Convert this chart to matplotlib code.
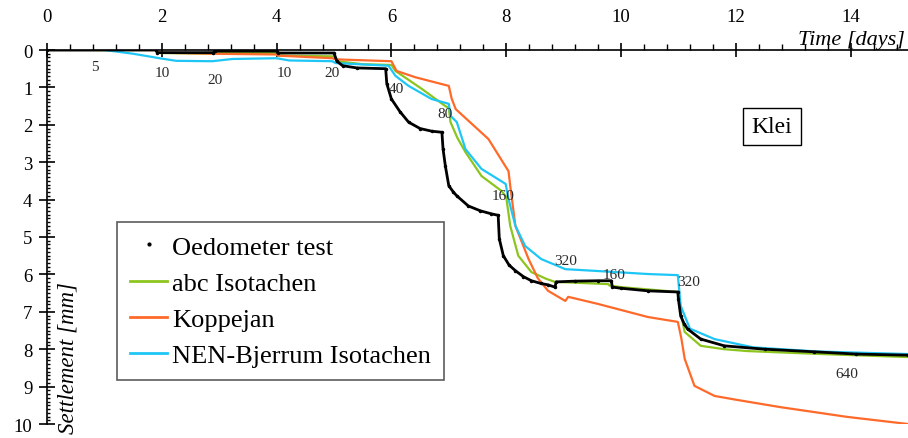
import numpy as np
import matplotlib.pyplot as plt
from matplotlib.lines import Line2D
from matplotlib.ticker import MultipleLocator

plt.rcParams['font.family'] = ['Liberation Serif', 'DejaVu Serif']

# time [days], settlement [mm]
oedo_t = [0.0, 1.9, 1.92, 2.9, 2.92, 4.0, 4.02, 5.0, 5.05, 5.15, 5.4, 5.9, 5.92, 6.0,
          6.15, 6.3, 6.5, 6.7, 6.88, 6.9, 6.94, 7.0, 7.08, 7.14, 7.34, 7.55, 7.74, 7.86,
          7.88, 7.95, 8.05, 8.16, 8.3, 8.44, 8.6, 8.73, 8.85, 8.87, 9.2, 9.6, 9.83,
          9.85, 10.0, 10.47, 10.99, 11.0, 11.04, 11.1, 11.16, 11.39, 11.8, 12.5,
          13.37, 14.1, 15.0]
oedo_s = [0.0, 0.0, 0.07, 0.07, 0.03, 0.03, 0.08, 0.08, 0.3, 0.42, 0.48, 0.5, 0.9, 1.31,
          1.65, 1.93, 2.1, 2.17, 2.2, 2.65, 3.1, 3.63, 3.8, 3.9, 4.17, 4.3, 4.38, 4.42,
          5.05, 5.5, 5.75, 5.9, 6.06, 6.17, 6.24, 6.28, 6.34, 6.2, 6.18, 6.17, 6.17,
          6.34, 6.37, 6.44, 6.47, 6.66, 7.11, 7.32, 7.46, 7.73, 7.91, 8.0,
          8.07, 8.13, 8.16]

abc_t = [0.0, 1.9, 1.92, 2.9, 3.0, 4.0, 4.02, 5.0, 5.05, 5.5, 6.0, 6.07, 6.3, 6.53, 6.94,
         7.0, 7.03, 7.15, 7.29, 7.57, 7.92, 8.0, 8.07, 8.21, 8.44, 8.7, 8.85, 9.78,
         9.8, 10.0, 10.99, 11.0, 11.05, 11.11, 11.39, 11.8, 12.2, 13.5, 15.0]
abc_s = [0.0, 0.0, 0.08, 0.1, 0.08, 0.08, 0.15, 0.17, 0.3, 0.38, 0.4, 0.56, 0.8, 1.04, 1.5,
         1.55, 1.93, 2.35, 2.73, 3.37, 3.77, 3.93, 4.7, 5.5, 5.94, 6.12, 6.2, 6.26,
         6.3, 6.34, 6.47, 6.6, 7.1, 7.54, 7.91, 8.0, 8.05, 8.13, 8.21]

kop_t = [0.0, 1.9, 1.92, 2.9, 4.0, 4.02, 4.97, 5.03, 6.0, 6.09, 6.42, 7.0, 7.05, 7.12,
         7.69, 8.04, 8.07, 8.16, 8.39, 8.55, 8.73, 9.03, 9.08, 9.6, 10.47, 10.99, 11.05,
         11.11, 11.28, 11.63, 12.0, 12.78, 13.94, 15.0]
kop_s = [0.0, 0.0, 0.07, 0.1, 0.12, 0.15, 0.22, 0.25, 0.3, 0.56, 0.73, 0.96, 1.3, 1.58,
         2.38, 3.24, 3.63, 4.7, 5.59, 6.1, 6.44, 6.71, 6.6, 6.79, 7.14, 7.27, 7.7,
         8.26, 8.98, 9.25, 9.35, 9.55, 9.81, 10.0]

nen_t = [0.0, 1.0, 1.5, 1.96, 2.25, 2.88, 3.23, 4.0, 4.22, 4.97, 5.03, 5.95, 6.07, 6.3,
         6.7, 7.0, 7.03, 7.14, 7.29, 7.57, 7.99, 8.04, 8.16, 8.33, 8.61, 9.03, 9.6,
         10.47, 10.99, 11.04, 11.2, 11.63, 12.3, 13.4, 15.0]
nen_s = [0.0, 0.0, 0.1, 0.22, 0.29, 0.3, 0.24, 0.22, 0.28, 0.3, 0.35, 0.42, 0.69, 0.96,
         1.31, 1.44, 1.76, 1.93, 2.65, 3.18, 3.58, 3.98, 4.7, 5.24, 5.59, 5.86, 5.91,
         5.99, 6.02, 6.84, 7.45, 7.73, 7.95, 8.06, 8.13]

load_labels = ['5', '10', '20', '10', '20', '40', '80', '160', '320', '160', '320', '640']
load_t = [0.83, 2.0, 2.93, 4.13, 4.97, 6.09, 6.94, 7.95, 9.03, 9.88, 11.18, 13.94]
load_s = [0.45, 0.59, 0.78, 0.59, 0.59, 1.04, 1.71, 3.88, 5.64, 5.99, 6.18, 8.64]

green = '#8cc51e'
orange = '#ff6a2a'
cyan = '#1ec6f6'

fig = plt.figure(figsize=(9.08, 4.39), dpi=100)
ax = fig.add_axes([47/908, 1-425/439, 1-47/908, (425-51)/439])

ax.plot(abc_t, abc_s, color=green, lw=1.6)
ax.plot(kop_t, kop_s, color=orange, lw=1.6)
ax.plot(nen_t, nen_s, color=cyan, lw=1.6)
ax.plot(oedo_t, oedo_s, color='black', lw=2.0, marker='.', ms=3)

for lab, t, s in zip(load_labels, load_t, load_s):
    ax.text(t, s, lab, fontsize=11, color='#2a2a2a', ha='center', va='center')

ax.set_xlim(0, 15)
ax.set_ylim(10, 0)

for sp in ['right', 'bottom']:
    ax.spines[sp].set_visible(False)
ax.spines['top'].set_linewidth(1.2)
ax.spines['left'].set_linewidth(1.2)

ax.xaxis.set_major_locator(MultipleLocator(2))
ax.xaxis.set_minor_locator(MultipleLocator(0.4))
ax.yaxis.set_major_locator(MultipleLocator(1))
ax.yaxis.set_minor_locator(MultipleLocator(0.1))

ax.tick_params(axis='x', which='major', top=True, bottom=False, labeltop=True,
               labelbottom=False, direction='inout', length=10, width=1.2,
               pad=13, labelsize=13.5)
ax.tick_params(axis='x', which='minor', top=True, bottom=False, direction='out',
               length=4, width=1)
ax.tick_params(axis='y', which='major', direction='inout', length=11, width=1.2,
               pad=5, labelsize=13.5)
ax.tick_params(axis='y', which='minor', direction='in', length=2.5, width=1)

fig.text(851/908, 1-40/439, 'Time [days]', style='italic', fontsize=16,
         ha='center', va='center')
fig.text(68/908, 1-358/439, 'Settlement [mm]', style='italic', fontsize=16.5,
         rotation=90, ha='center', va='center')

ax.text(12.63, 2.05, 'Klei', fontsize=17, ha='center', va='center',
        bbox=dict(boxstyle='square,pad=0.35', fc='white', ec='black', lw=1))

handles = [Line2D([], [], color='black', marker='.', ms=4, ls='none'),
           Line2D([], [], color=green, lw=2),
           Line2D([], [], color=orange, lw=2),
           Line2D([], [], color=cyan, lw=2)]
labels = ['Oedometer test', 'abc Isotachen', 'Koppejan', 'NEN-Bjerrum Isotachen']
leg = ax.legend(handles, labels, loc='upper left',
                bbox_to_anchor=((117-47)/861, 1-(223-51)/374),
                fontsize=19, frameon=True, fancybox=False, edgecolor='#333333',
                handlelength=1.4, handletextpad=0.2, labelspacing=0.48,
                borderpad=0.5, borderaxespad=0)
leg.get_frame().set_linewidth(1.2)

fig.savefig('out.png', dpi=100)
